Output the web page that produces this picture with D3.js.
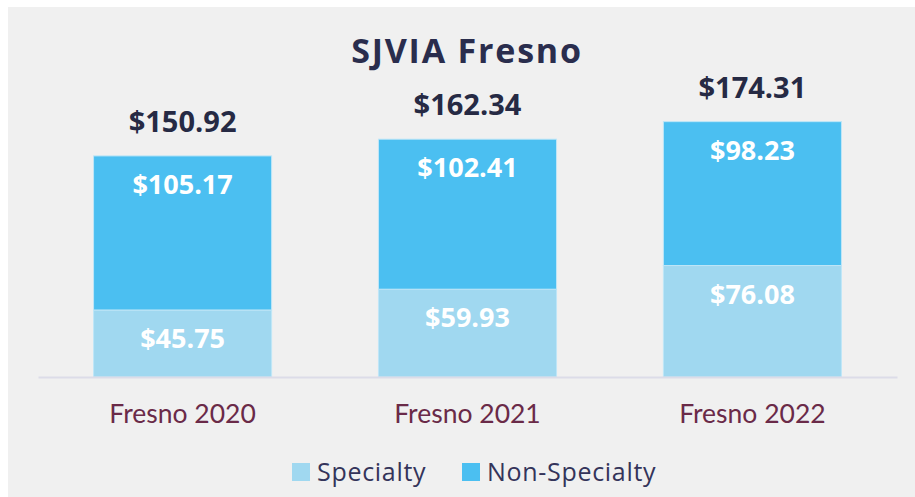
<!DOCTYPE html>
<html><head><meta charset="utf-8">
<script src="https://cdn.jsdelivr.net/npm/d3@7/dist/d3.min.js"></script>
<style>html,body{margin:0;padding:0;background:#fff;}svg{display:block;}</style>
</head><body>
<svg id="chart" width="915" height="497"></svg>
<script>
const title = "SJVIA Fresno";
const categories = ["Fresno 2020", "Fresno 2021", "Fresno 2022"];
const seriesNames = ["Specialty", "Non-Specialty"];
const specialty = [45.75, 59.93, 76.08];
const nonSpecialty = [105.17, 102.41, 98.23];
const totals = [150.92, 162.34, 174.31];
const colors = ["#a0d8f0", "#4bbff1"];

const svg = d3.select("#chart");
svg.append("rect").attr("x", 8).attr("y", 7).attr("width", 907).attr("height", 490).attr("fill", "#f0f0f0");

const x = d3.scaleBand().domain(categories).range([38, 897]).paddingInner(0.375).paddingOuter(0.195);
const y = d3.scaleLinear().domain([0, 200]).range([377, 84]);

const table = categories.map((c, i) => ({cat: c, "Specialty": specialty[i], "Non-Specialty": nonSpecialty[i]}));
const stacked = d3.stack().keys(seriesNames)(table);

svg.append("text").attr("x", 467).attr("y", 63).attr("text-anchor", "middle")
  .attr("font-family", "Open Sans").attr("font-weight", 700).attr("font-size", 34)
  .attr("letter-spacing", 1.8)
  .attr("fill", "#2a2d4d").text(title);

stacked.forEach((s, si) => {
  const g = svg.append("g");
  g.selectAll("rect").data(s).join("rect")
    .attr("x", d => x(d.data.cat)).attr("width", x.bandwidth())
    .attr("y", d => y(d[1])).attr("height", d => y(d[0]) - y(d[1]))
    .attr("fill", colors[si]).attr("stroke", "#bfe6f7").attr("stroke-width", 1);
  g.selectAll("text").data(s).join("text")
    .attr("x", d => x(d.data.cat) + x.bandwidth() / 2)
    .attr("y", d => y(d[1]) + 38)
    .attr("text-anchor", "middle")
    .attr("font-family", "Open Sans").attr("font-weight", 700).attr("font-size", 27)
    .attr("fill", "#ffffff")
    .text(d => "$" + (d[1] - d[0]).toFixed(2));
});

// axis baseline
const xAxis = d3.axisBottom(x).tickSize(0).tickPadding(0);
const axisG = svg.append("g").attr("transform", "translate(0,377)").call(xAxis);
axisG.select(".domain").attr("stroke", "#dcdce8").attr("stroke-width", 2);
axisG.selectAll(".tick text").attr("dy", null).attr("y", 46)
  .attr("font-family", "Lato").attr("font-size", 26.5).attr("fill", "#6a2a48");

svg.append("g").selectAll("text").data(categories).join("text")
  .attr("x", d => x(d) + x.bandwidth() / 2)
  .attr("y", (d, i) => y(totals[i]) - 24)
  .attr("text-anchor", "middle")
  .attr("font-family", "Open Sans").attr("font-weight", 700).attr("font-size", 29)
  .attr("fill", "#262a44")
  .text((d, i) => "$" + totals[i].toFixed(2));

// legend
const legendX = [292, 462];
const lg = svg.append("g");
seriesNames.forEach((n, i) => {
  lg.append("rect").attr("x", legendX[i]).attr("y", 463).attr("width", 18).attr("height", 18).attr("fill", colors[i]);
  lg.append("text").attr("x", legendX[i] + 25).attr("y", 481)
    .attr("font-family", "Open Sans").attr("font-size", 25).attr("letter-spacing", 0.7)
    .attr("fill", "#34345a").text(n);
});
</script>
</body></html>
